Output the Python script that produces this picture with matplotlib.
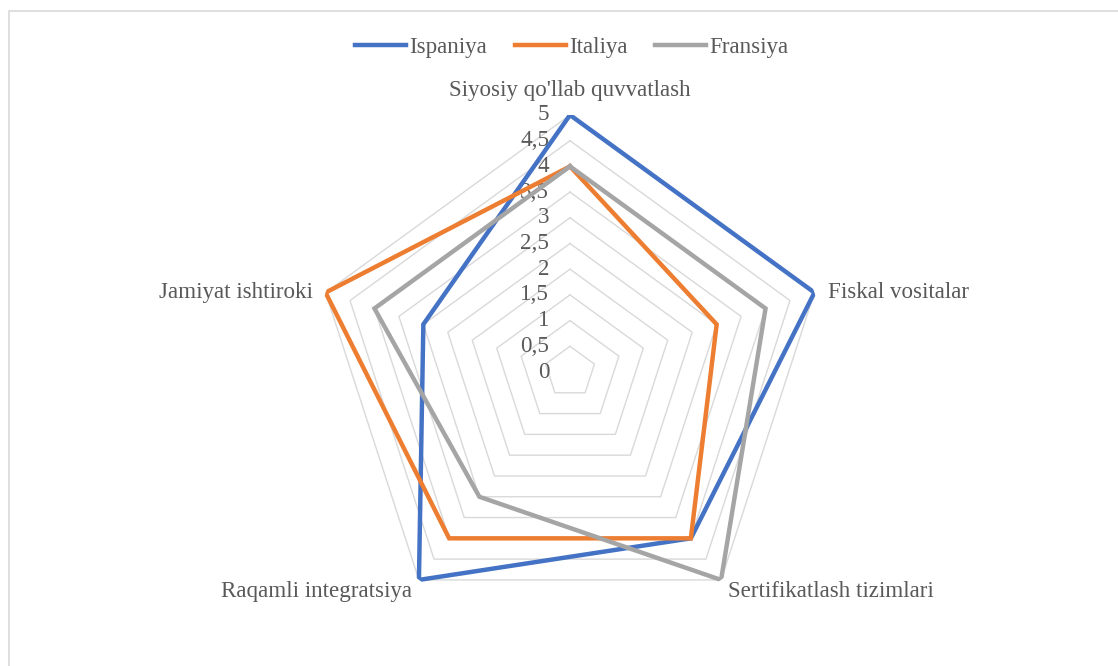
import numpy as np
import matplotlib
matplotlib.use("Agg")
from matplotlib import pyplot as plt
from matplotlib.patches import Rectangle

categories = ["Siyosiy qo'llab quvvatlash", "Fiskal vositalar", "Sertifikatlash tizimlari",
              "Raqamli integratsiya", "Jamiyat ishtiroki"]
ispaniya = [5, 5, 4, 5, 3]
italiya = [4, 3, 4, 4, 5]
fransiya = [4, 4, 5, 3, 4]
series_names = ["Ispaniya", "Italiya", "Fransiya"]
levels = [0.5, 1, 1.5, 2, 2.5, 3, 3.5, 4, 4.5, 5]
tick_values = [0, 0.5, 1, 1.5, 2, 2.5, 3, 3.5, 4, 4.5, 5]
tick_labels = ["0", "0,5", "1", "1,5", "2", "2,5", "3", "3,5", "4", "4,5", "5"]

colors = ["#4472C4", "#ED7D31", "#A5A5A5"]
text_color = "#595959"
plt.rcParams['font.family'] = ['Liberation Serif', 'DejaVu Serif']
fs = 16.6

W, H = 1118, 666
fig = plt.figure(figsize=(W / 100, H / 100), dpi=100)

# chart frame
fig.patches.append(Rectangle((9 / W, -0.1), 1.2, (H - 11) / H + 0.1, transform=fig.transFigure,
                             fill=False, edgecolor="#D9D9D9", linewidth=1.2))

cx, cy, r = 570, 372, 257
ax = fig.add_axes([(cx - r) / W, (H - cy - r) / H, 2 * r / W, 2 * r / H], projection='polar')
ax.set_theta_offset(np.pi / 2)
ax.set_theta_direction(-1)
ax.set_ylim(0, 5)
ax.grid(False)
ax.spines['polar'].set_visible(False)
ax.set_xticks([])
ax.set_yticks([])
ax.patch.set_alpha(0)

n = len(categories)
angles = np.linspace(0, 2 * np.pi, n, endpoint=False)
closed = np.append(angles, angles[0])

# polygon grid
for lv in levels:
    ax.plot(closed, [lv] * (n + 1), color="#D9D9D9", linewidth=1.0, zorder=1)

# radial tick labels along the top spoke
for v, lab in zip(tick_values, tick_labels):
    ax.annotate(lab, xy=(0, v), xytext=(-15, 0), textcoords='offset points',
                ha='right', va='center', fontsize=fs, color=text_color, zorder=2)

# data
for vals, name, col in zip([ispaniya, italiya, fransiya], series_names, colors):
    ax.plot(closed, vals + vals[:1], color=col, linewidth=3.2, label=name, zorder=3,
            solid_joinstyle='miter')

# category labels
offsets = [(0, 10, 'center', 'bottom'), (10, 0, 'left', 'center'), (5, -8, 'left', 'center'),
           (-5, -8, 'right', 'center'), (-9, 0, 'right', 'center')]
for a, lab, (dx, dy, ha, va) in zip(angles, categories, offsets):
    ax.annotate(lab, xy=(a, 5), xytext=(dx, dy), textcoords='offset points',
                ha=ha, va=va, fontsize=fs, color=text_color, annotation_clip=False)

fig.legend(loc='center', bbox_to_anchor=(572 / W, (H - 47) / H), ncol=3, frameon=False,
           fontsize=fs, labelcolor=text_color, handlelength=2.2, handletextpad=0.15,
           columnspacing=1.2)

fig.savefig("out.png", dpi=100, facecolor="white")
